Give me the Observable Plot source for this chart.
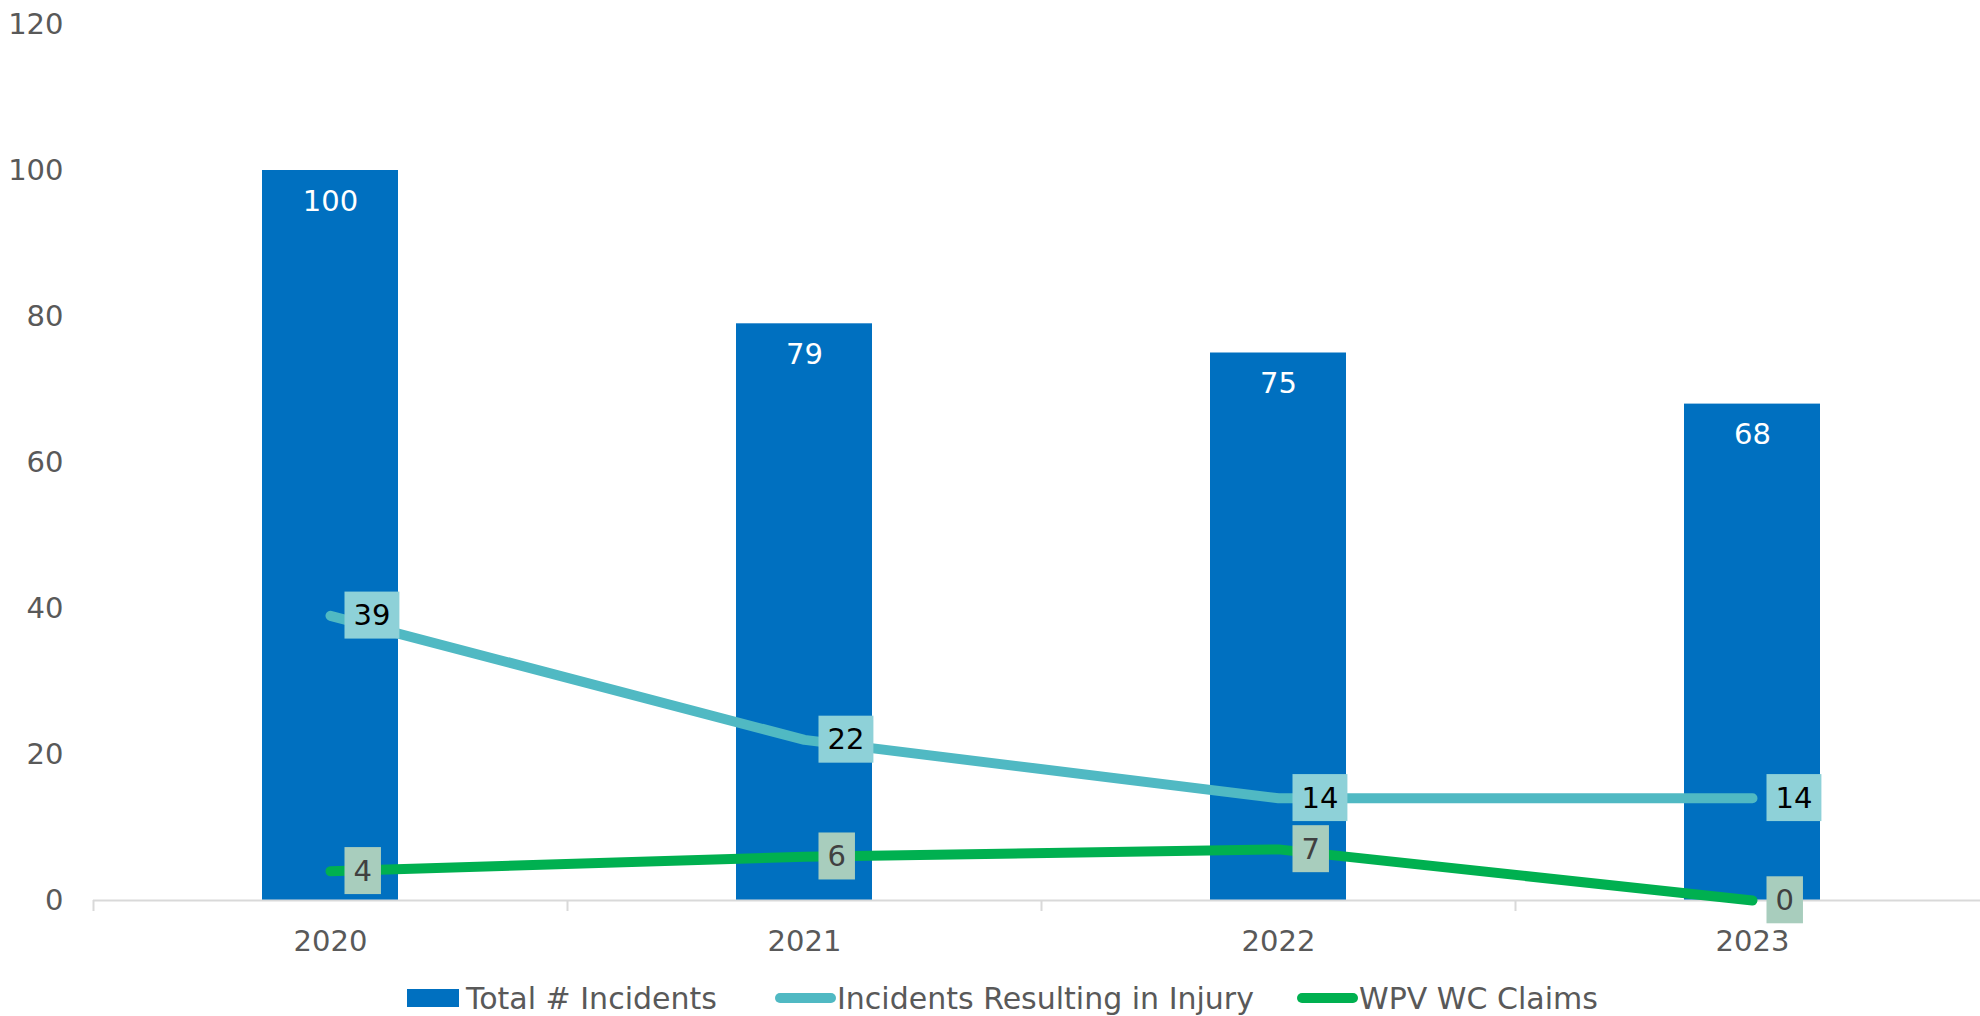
<!DOCTYPE html>
<html><head><meta charset="utf-8">
<script src="https://cdn.jsdelivr.net/npm/d3@7"></script>
<script src="https://cdn.jsdelivr.net/npm/@observablehq/plot@0.6"></script>
<style>
html,body{margin:0;padding:0;background:#fff;overflow:hidden;}
body{font-family:"DejaVu Sans",sans-serif;}
#legend{position:relative;width:1980px;height:46px;font-size:30px;color:#595959;}
.item{position:absolute;top:0;height:46px;display:flex;align-items:center;white-space:nowrap;}
.sq{width:52px;height:18px;margin-right:7px;}
.ln{width:61px;height:10px;border-radius:5px;margin-right:1px;}
</style></head><body>
<div id="chart"></div>
<div id="legend"></div>
<script>
// ---- data ----
const years = ["2020", "2021", "2022", "2023"];
const totalIncidents = [100, 79, 75, 68];
const injuryIncidents = [39, 22, 14, 14];
const wpvClaims = [4, 6, 7, 0];
const seriesNames = ["Total # Incidents", "Incidents Resulting in Injury", "WPV WC Claims"];
const seriesColors = ["#0070c0", "#50b9c3", "#00b050"];
const yTicks = [0, 20, 40, 60, 80, 100, 120];

const rows = years.map((year, i) => ({year, total: totalIncidents[i], injury: injuryIncidents[i], wpv: wpvClaims[i]}));

// ---- layout ----
const W = 1980, H = 975, mL = 93, mR = 0, mT = 24, mB = 75;
const xRange = [93, 1989];
const bandW = (xRange[1] - xRange[0]) / years.length;
const barW = 136;
const barInset = (bandW - barW) / 2;
const fs = 29;

const chart = Plot.plot({
  width: W, height: H,
  marginLeft: mL, marginRight: mR, marginTop: mT, marginBottom: mB,
  style: {fontFamily: "DejaVu Sans, sans-serif", fontSize: fs + "px", color: "#595959", background: "#fff", overflow: "hidden"},
  x: {type: "band", domain: years, range: xRange, padding: 0, label: null, tickSize: 0, tickPadding: 30},
  y: {domain: [0, 120], ticks: yTicks, label: null, tickSize: 0, tickPadding: 30},
  marks: [
    Plot.barY(rows, {x: "year", y: "total", fill: seriesColors[0], insetLeft: barInset, insetRight: barInset}),
    Plot.ruleY([0], {stroke: "#d9d9d9", strokeWidth: 2}),
    Plot.ruleX(years, {x: d => d, y1: 0, y2: 0, dx: -bandW / 2, insetBottom: -11, stroke: "#d9d9d9", strokeWidth: 2}),
    Plot.line(rows, {x: "year", y: "injury", stroke: seriesColors[1], strokeWidth: 10, strokeLinecap: "round", strokeLinejoin: "round"}),
    Plot.line(rows, {x: "year", y: "wpv", stroke: seriesColors[2], strokeWidth: 10, strokeLinecap: "round", strokeLinejoin: "round"}),
    Plot.text(rows, {x: "year", y: "total", text: d => String(d.total), fill: "#ffffff", dy: 31, fontSize: fs}),
    Plot.text(rows, {x: "year", y: "injury", text: d => String(d.injury), fill: "#000000", textAnchor: "start", dx: 23, fontSize: fs}),
    Plot.text(rows, {x: "year", y: "wpv", text: d => String(d.wpv), fill: "#404040", textAnchor: "start", dx: 23, fontSize: fs})
  ]
});
document.getElementById("chart").append(chart);

// label boxes behind the line labels
const textGroups = chart.querySelectorAll('g[aria-label="text"]');
const boxFills = [null, "#8ed1d8", "#a8cdbd"];
textGroups.forEach((g, gi) => {
  const fill = boxFills[gi];
  if (!fill) return;
  g.querySelectorAll("text").forEach(t => {
    const b = t.getBBox();
    const r = document.createElementNS("http://www.w3.org/2000/svg", "rect");
    const cy = b.y + b.height / 2;
    r.setAttribute("x", b.x - 9);
    r.setAttribute("width", b.width + 18);
    r.setAttribute("y", cy - 23.5);
    r.setAttribute("height", 47);
    r.setAttribute("fill", fill);
    r.setAttribute("stroke", "none");
    const tr = t.getAttribute("transform");
    if (tr) r.setAttribute("transform", tr);
    t.parentNode.insertBefore(r, t);
  });
});

// legend
const legendLefts = [407, 775, 1297];
const legend = document.getElementById("legend");
seriesNames.forEach((name, i) => {
  const item = document.createElement("div");
  item.className = "item";
  item.style.left = legendLefts[i] + "px";
  const sw = document.createElement("span");
  sw.className = i === 0 ? "sq" : "ln";
  sw.style.background = seriesColors[i];
  const tx = document.createElement("span");
  tx.textContent = name;
  item.append(sw, tx);
  legend.append(item);
});
</script>
</body></html>
